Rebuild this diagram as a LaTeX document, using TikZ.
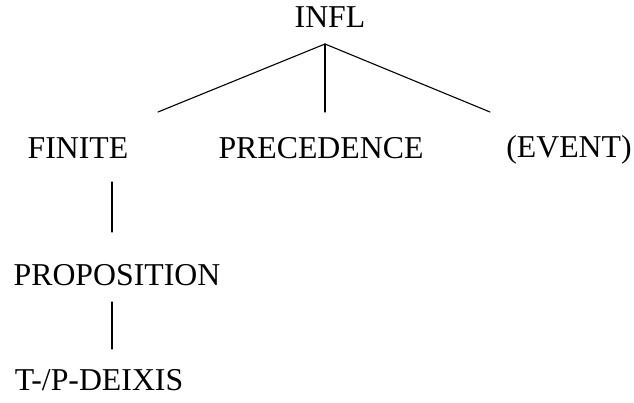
\documentclass[tikz,border=0pt]{standalone}
\usepackage{fontspec}
\setmainfont{Liberation Serif}
\begin{document}
\begin{tikzpicture}[x=1pt,y=-1pt,line join=round,line cap=round,
	lbl/.style={anchor=base,inner sep=0pt,font=\fontsize{31.8}{38}\selectfont},
	branch/.style={line width=1.1pt}]
	\useasboundingbox (0,0) rectangle (634,403);
	\node[lbl] (infl) at (330,28) {INFL};
	\node[lbl] (finite) at (78,159) {FINITE};
	\node[lbl] (precedence) at (321,159) {PRECEDENCE};
	\node[lbl] (event) at (569,158) {(EVENT)};
	\node[lbl] (proposition) at (117,285) {PROPOSITION};
	\node[lbl] (deixis) at (99,390) {T-/P-DEIXIS};
	% branch points
	\coordinate (top) at (325,44);
	\coordinate (l) at (158,112);
	\coordinate (m) at (325,112);
	\coordinate (r) at (490,112);
	\coordinate (a1) at (112,182);
	\coordinate (a2) at (112,232);
	\coordinate (b1) at (112,302);
	\coordinate (b2) at (112,349);
	\draw[branch] (l)--(top)--(r);
	\draw[branch] (top)--(m);
	\draw[branch] (a1)--(a2);
	\draw[branch] (b1)--(b2);
\end{tikzpicture}
\end{document}
